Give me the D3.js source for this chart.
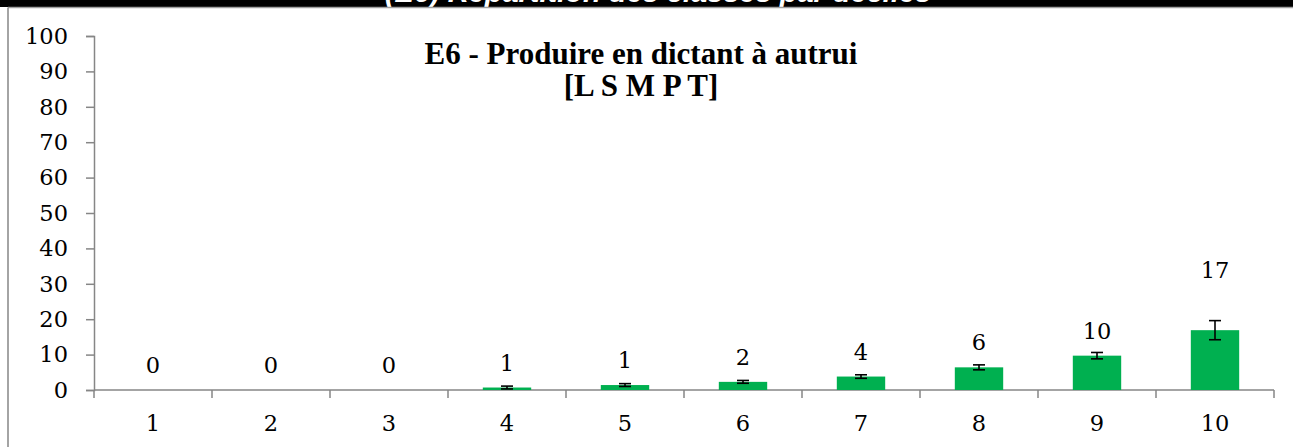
<!DOCTYPE html>
<html>
<head>
<meta charset="utf-8">
<script src="https://cdn.jsdelivr.net/npm/d3@7"></script>
<style>
  html, body { margin: 0; padding: 0; background: #fff; }
  svg { display: block; }
</style>
</head>
<body>
<svg id="chart" width="1293" height="447"></svg>
<script>
// Deciles and class share per decile (percent), with spread for error bars
const deciles = ["1", "2", "3", "4", "5", "6", "7", "8", "9", "10"];
const shares  = [0, 0, 0, 0.7, 1.4, 2.3, 3.8, 6.4, 9.7, 16.9];
const spreads = [0, 0, 0, 0.4, 0.4, 0.4, 0.5, 0.7, 0.9, 2.7];
const yTicks  = [0, 10, 20, 30, 40, 50, 60, 70, 80, 90, 100];
const titleLines = ["E6 - Produire en dictant à autrui", "[L S M P T]"];
const bannerText = "(E6) Répartition des classes par déciles";

const svg = d3.select("#chart");
const W = 1293, H = 447;
const plot = { left: 94, right: 1274, top: 36, bottom: 390 };

const serif = "'DejaVu Serif', serif";
const axisColor = "#868686";

// Dark banner at the top, its caption cut off by the chart frame
svg.append("defs").append("clipPath").attr("id", "bannerClip")
  .append("rect").attr("x", 0).attr("y", 0).attr("width", W).attr("height", 7);
svg.append("rect").attr("x", 0).attr("y", 0).attr("width", W).attr("height", 7).attr("fill", "#000");
svg.append("text")
  .attr("clip-path", "url(#bannerClip)")
  .attr("x", 658).attr("y", 2)
  .attr("text-anchor", "middle")
  .attr("fill", "#fff")
  .style("font-family", "'Liberation Sans', sans-serif")
  .style("font-weight", "bold").style("font-style", "italic")
  .style("font-size", "29px")
  .text(bannerText);

// Chart frame (top and left edges visible)
svg.append("line").attr("x1", 8).attr("x2", W).attr("y1", 7.5).attr("y2", 7.5)
  .attr("stroke", "#a0a0a0").attr("stroke-width", 1.5);
svg.append("line").attr("x1", 8).attr("x2", 8).attr("y1", 7.5).attr("y2", H)
  .attr("stroke", axisColor).attr("stroke-width", 1.5);

const x = d3.scaleBand().domain(deciles).range([plot.left, plot.right]).padding(0);
const y = d3.scaleLinear().domain([0, 100]).range([plot.bottom, plot.top]);
const barW = x.step() * 0.41;

// Y axis
const yAxis = d3.axisLeft(y).tickValues(yTicks).tickSize(8).tickPadding(18);
const gy = svg.append("g").attr("transform", `translate(${plot.left},0)`).call(yAxis);
gy.select(".domain").attr("stroke", axisColor).attr("stroke-width", 1.5);
gy.selectAll(".tick line").attr("stroke", axisColor).attr("stroke-width", 1.5);
gy.selectAll(".tick text")
  .style("font-family", serif).style("font-size", "22.5px").attr("fill", "#000");

// X axis: ticks on the category boundaries
const xBounds = d3.range(deciles.length + 1).map(i => plot.left + i * x.step());
const gx = svg.append("g");
gx.append("line").attr("x1", plot.left).attr("x2", plot.right)
  .attr("y1", plot.bottom).attr("y2", plot.bottom)
  .attr("stroke", axisColor).attr("stroke-width", 1.5);
gx.selectAll("line.tk").data(xBounds).join("line").attr("class", "tk")
  .attr("x1", d => d).attr("x2", d => d)
  .attr("y1", plot.bottom).attr("y2", plot.bottom + 8)
  .attr("stroke", axisColor).attr("stroke-width", 1.5);
gx.selectAll("text").data(deciles).join("text")
  .attr("x", d => x(d) + x.bandwidth() / 2)
  .attr("y", plot.bottom + 41)
  .attr("text-anchor", "middle")
  .style("font-family", serif).style("font-size", "22.5px")
  .text(d => d);

// Bars
svg.append("g").selectAll("rect").data(deciles).join("rect")
  .attr("x", (d, i) => x(d) + (x.bandwidth() - barW) / 2)
  .attr("width", barW)
  .attr("y", (d, i) => y(shares[i]))
  .attr("height", (d, i) => y(0) - y(shares[i]))
  .attr("fill", "#00b050");

// Error bars
const eb = svg.append("g").attr("stroke", "#000").attr("stroke-width", 1.6);
deciles.forEach((d, i) => {
  if (spreads[i] === 0) return;
  const cx = x(d) + x.bandwidth() / 2;
  const yHi = y(shares[i] + spreads[i]), yLo = y(shares[i] - spreads[i]);
  eb.append("line").attr("x1", cx).attr("x2", cx).attr("y1", yHi).attr("y2", yLo);
  eb.append("line").attr("x1", cx - 6).attr("x2", cx + 6).attr("y1", yHi).attr("y2", yHi);
  eb.append("line").attr("x1", cx - 6).attr("x2", cx + 6).attr("y1", yLo).attr("y2", yLo);
});

// Value labels above the bars (the last one lifted clear of its error bar)
svg.append("g").selectAll("text").data(deciles).join("text")
  .attr("x", d => x(d) + x.bandwidth() / 2)
  .attr("y", (d, i) => y(shares[i]) - (i === deciles.length - 1 ? 52 : 17))
  .attr("text-anchor", "middle")
  .style("font-family", serif).style("font-size", "22.5px")
  .text((d, i) => d3.format(".0f")(shares[i]));

// Title
const title = svg.append("text")
  .attr("text-anchor", "middle")
  .style("font-family", "'Liberation Serif', serif")
  .style("font-weight", "bold").style("font-size", "31px");
titleLines.forEach((t, i) => {
  title.append("tspan").attr("x", 641).attr("y", 64 + i * 32).text(t);
});
</script>
</body>
</html>
